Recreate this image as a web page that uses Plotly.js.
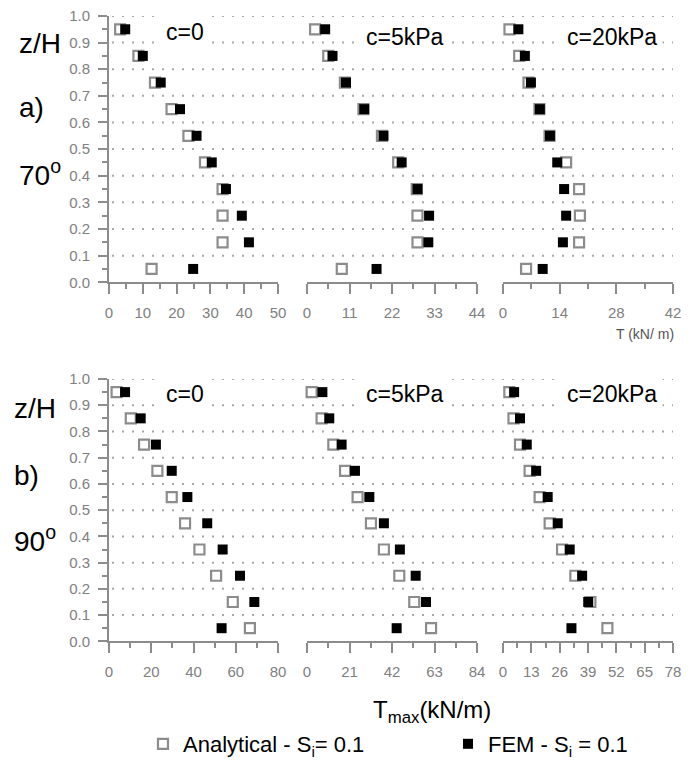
<!DOCTYPE html>
<html><head><meta charset="utf-8">
<script src="https://cdn.plot.ly/plotly-3.0.1.min.js"></script>
<style>html,body{margin:0;padding:0;background:#fff}#chart{width:695px;height:765px}</style>
</head><body><div id="chart"></div>
<script>
// ---- data ----
const zH = [0.05, 0.15, 0.25, 0.35, 0.45, 0.55, 0.65, 0.75, 0.85, 0.95];

// a) 70 degrees
const ana70_c0  = [12.6, 33.6, 33.6, 33.6, 28.4, 23.5, 18.5, 13.6, 8.7, 3.3];
const fem70_c0  = [24.9, 41.4, 39.3, 34.6, 30.4, 25.9, 21.0, 15.3, 10.0, 4.8];
const ana70_c5  = [9.0, 28.6, 28.6, 28.4, 23.6, 19.4, 14.6, 9.8, 5.5, 2.1];
const fem70_c5  = [18.0, 31.4, 31.6, 28.6, 24.5, 19.8, 14.8, 10.1, 6.6, 4.7];
const ana70_c20 = [5.7, 18.8, 19.0, 18.8, 15.6, 11.5, 9.0, 6.3, 4.0, 1.6];
const fem70_c20 = [9.8, 14.8, 15.6, 15.1, 13.4, 11.6, 9.1, 6.9, 5.4, 3.8];

// b) 90 degrees
const ana90_c0  = [66.7, 58.6, 50.7, 42.8, 36.0, 29.7, 22.9, 16.6, 10.3, 3.6];
const fem90_c0  = [53.3, 68.8, 62.0, 53.8, 46.5, 37.1, 29.7, 22.2, 15.0, 7.6];
const ana90_c5  = [61.3, 53.0, 45.6, 38.0, 31.6, 25.0, 18.8, 13.0, 7.2, 2.3];
const fem90_c5  = [44.3, 58.8, 53.7, 45.9, 38.0, 30.8, 23.7, 17.1, 11.0, 7.6];
const ana90_c20 = [47.9, 40.1, 33.2, 27.1, 21.4, 16.8, 12.2, 7.8, 4.8, 2.9];
const fem90_c20 = [31.4, 39.1, 36.3, 30.6, 25.1, 20.5, 15.2, 10.9, 7.8, 5.1];

// tick labels
const ticks70_c0  = [0, 10, 20, 30, 40, 50];
const ticks70_c5  = [0, 11, 22, 33, 44];
const ticks70_c20 = [0, 14, 28, 42];
const ticks90_c0  = [0, 20, 40, 60, 80];
const ticks90_c5  = [0, 21, 42, 63, 84];
const ticks90_c20 = [0, 13, 26, 39, 52, 65, 78];
const yTicks = [0, 0.1, 0.2, 0.3, 0.4, 0.5, 0.6, 0.7, 0.8, 0.9, 1.0];
const yTickText = ["0.0","0.1","0.2","0.3","0.4","0.5","0.6","0.7","0.8","0.9","1.0"];

const panelLabels = ["c=0", "c=5kPa", "c=20kPa"];
const seriesNames = ["Analytical - S<sub>i</sub>= 0.1", "FEM - S<sub>i</sub> = 0.1"];

// ---- layout helpers ----
const W = 695, H = 765;
const px = v => v / W;
const py = v => 1 - v / H;
const FONT = "Arial, 'Liberation Sans', sans-serif";
const colX = [[109, 278], [307, 477], [503, 673]];
const rowY = [[16, 283], [380, 643]];
const labelY = [[32, 37, 37], [395, 395, 395]];
const labelX = [185, 405, 612];

const panels = [
  {ana: ana70_c0,  fem: fem70_c0,  ticks: ticks70_c0},
  {ana: ana70_c5,  fem: fem70_c5,  ticks: ticks70_c5},
  {ana: ana70_c20, fem: fem70_c20, ticks: ticks70_c20},
  {ana: ana90_c0,  fem: fem90_c0,  ticks: ticks90_c0},
  {ana: ana90_c5,  fem: fem90_c5,  ticks: ticks90_c5},
  {ana: ana90_c20, fem: fem90_c20, ticks: ticks90_c20}
];

const legendFont = {family: FONT, size: 22, color: "#000"};
const traces = [];
const layout = {
  width: W, height: H,
  margin: {l: 0, r: 0, t: 0, b: 0},
  paper_bgcolor: "#fff", plot_bgcolor: "#fff",
  font: {family: FONT, color: "#000"},
  showlegend: true,
  legend: {
    orientation: "h", x: px(143), xanchor: "left", y: py(746), yanchor: "middle",
    font: legendFont, bgcolor: "rgba(0,0,0,0)"
  },
  legend2: {
    orientation: "h", x: px(448), xanchor: "left", y: py(746), yanchor: "middle",
    font: legendFont, bgcolor: "rgba(0,0,0,0)"
  },
  shapes: [], annotations: []
};

panels.forEach((p, i) => {
  const k = i + 1;
  const r = Math.floor(i / 3), c = i % 3;
  const xa = "x" + (k === 1 ? "" : k), ya = "y" + (k === 1 ? "" : k);
  traces.push({
    type: "scatter", mode: "markers", x: p.ana, y: zH, xaxis: xa, yaxis: ya,
    name: seriesNames[0], showlegend: i === 0, legend: "legend", cliponaxis: false,
    marker: {symbol: "square-open", size: 10, color: "#8c8c8c", line: {width: 2.2, color: "#8c8c8c"}}
  });
  traces.push({
    type: "scatter", mode: "markers", x: p.fem, y: zH, xaxis: xa, yaxis: ya,
    name: seriesNames[1], showlegend: i === 0, legend: "legend2", cliponaxis: false,
    marker: {symbol: "square", size: 10, color: "#000"}
  });
  const tmax = p.ticks[p.ticks.length - 1];
  const step = p.ticks[1] - p.ticks[0];
  layout["xaxis" + (k === 1 ? "" : k)] = {
    domain: [px(colX[c][0]), px(colX[c][1])], anchor: ya, range: [0, tmax],
    tickmode: "array", tickvals: p.ticks, ticktext: p.ticks.map(String),
    ticks: "outside", ticklen: 10, tickwidth: 2, tickcolor: "#8c8c8c",
    minor: {tickmode: "linear", tick0: 0, dtick: step / 2, ticks: "outside", ticklen: 5, tickwidth: 2, tickcolor: "#8c8c8c"},
    showline: true, linecolor: "#8c8c8c", linewidth: 2, showgrid: false, zeroline: false,
    tickfont: {family: FONT, size: 15, color: "#808080"}, ticklabelstandoff: 6,
    fixedrange: true
  };
  const yax = {
    domain: [py(rowY[r][1]), py(rowY[r][0])], anchor: xa, range: [0, 1],
    showgrid: false, zeroline: false, fixedrange: true
  };
  if (c === 0) {
    Object.assign(yax, {
      tickmode: "array", tickvals: yTicks, ticktext: yTickText,
      ticks: "outside", ticklen: 9, tickwidth: 2, tickcolor: "#8c8c8c",
      minor: {tickmode: "linear", tick0: 0, dtick: 0.05, ticks: "outside", ticklen: 5, tickwidth: 2, tickcolor: "#8c8c8c"},
      showline: true, linecolor: "#8c8c8c", linewidth: 2,
      tickfont: {family: FONT, size: 15, color: "#808080"}, ticklabelstandoff: 5
    });
  } else {
    Object.assign(yax, {showline: false, showticklabels: false, ticks: ""});
  }
  layout["yaxis" + (k === 1 ? "" : k)] = yax;

  // dotted horizontal grid lines spanning the whole row (drawn once per row)
  if (c === 0) {
    yTicks.slice(1).forEach(v => {
      layout.shapes.push({
        type: "line", xref: "paper", yref: ya, x0: px(colX[0][0] + 3), x1: px(colX[2][1]),
        y0: v, y1: v, layer: "below", line: {color: "#a8a8a8", width: 2, dash: "2px,8px"}
      });
    });
  }
  // panel label
  layout.annotations.push({
    xref: "paper", yref: "paper", x: px(labelX[c]), y: py(labelY[r][c]),
    text: panelLabels[c], showarrow: false, xanchor: "center", yanchor: "middle",
    font: {family: FONT, size: 23, color: "#000"}, bgcolor: "#fff", borderpad: 5
  });
});

// left side labels
const sideLabels = [
  {t: "z/H", x: 17, y: 44}, {t: "a)", x: 17, y: 108}, {t: "70<sup>o</sup>", x: 17, y: 173},
  {t: "z/H", x: 12, y: 410}, {t: "b)", x: 12, y: 477}, {t: "90<sup>o</sup>", x: 12, y: 540}
];
sideLabels.forEach(s => layout.annotations.push({
  xref: "paper", yref: "paper", x: px(s.x), y: py(s.y), text: s.t, showarrow: false,
  xanchor: "left", yanchor: "middle", font: {family: FONT, size: 28, color: "#000"}
}));

// axis titles
layout.annotations.push({
  xref: "paper", yref: "paper", x: px(676), y: py(335), text: "T (kN/ m)", showarrow: false,
  xanchor: "right", yanchor: "middle", font: {family: FONT, size: 14, color: "#555"}
});
layout.annotations.push({
  xref: "paper", yref: "paper", x: px(432), y: py(713), text: "T<sub>max</sub>(kN/m)", showarrow: false,
  xanchor: "center", yanchor: "middle", font: {family: FONT, size: 24, color: "#000"}
});

Plotly.newPlot("chart", traces, layout, {displayModeBar: false, staticPlot: true});
</script>
</body></html>
